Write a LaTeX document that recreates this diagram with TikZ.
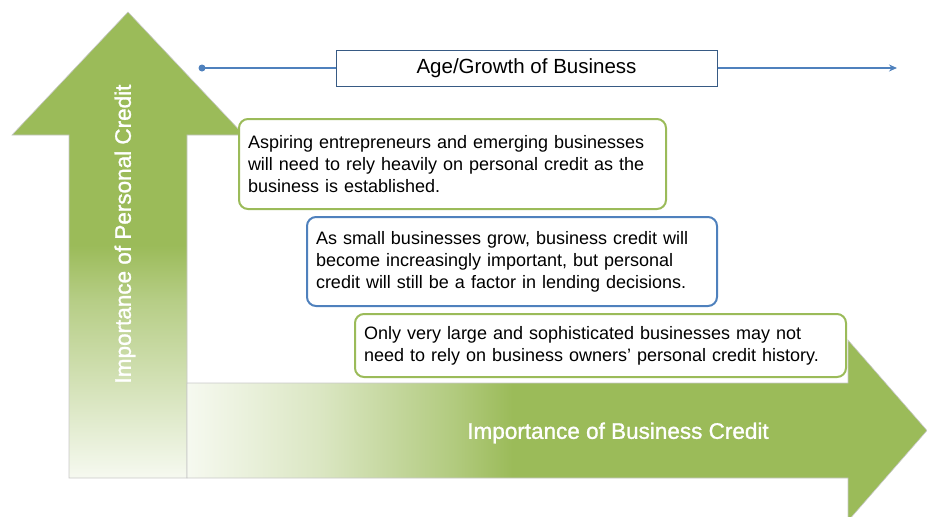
\documentclass[tikz,border=0pt]{standalone}
\usepackage{fontspec}
\setmainfont{Liberation Sans}
\newfontfamily\labelfont[FakeBold=1.2]{Liberation Sans}
\usetikzlibrary{arrows.meta}
\definecolor{ogreen}{HTML}{9BBB59}
\definecolor{oblue}{HTML}{4F81BD}
\definecolor{fadew}{HTML}{F6F9F0}
\definecolor{edgegray}{HTML}{C8C8C8}
% bounding box maps to 25bp..75bp
\pgfdeclareverticalshading{upfade}{100bp}{color(0bp)=(fadew); color(25bp)=(fadew); color(37bp)=(ogreen!45!fadew); color(44bp)=(ogreen!70!fadew); color(50bp)=(ogreen); color(100bp)=(ogreen)}
\pgfdeclarehorizontalshading{rightfade}{100bp}{color(0bp)=(fadew); color(25bp)=(fadew); color(34bp)=(ogreen!30!fadew); color(43bp)=(ogreen!75!fadew); color(47bp)=(ogreen); color(100bp)=(ogreen)}
\tikzset{
  arrowshape/.style={shading=#1, draw=edgegray, line width=0.6pt},
  infobox/.style={draw=#1, line width=2pt, rounded corners=9pt, fill=white, anchor=north west,
    inner xsep=9pt, inner ysep=0pt, align=left, font=\fontsize{18}{22}\selectfont},
  biglabel/.style={text=white, font=\labelfont\fontsize{22.5}{27}\selectfont},
  timeline/.style={draw=oblue, line width=2.2pt},
}
\begin{document}
\begin{tikzpicture}[x=1pt, y=-1pt]
\useasboundingbox (0,0) rectangle (927,517);
% up arrow
\path[arrowshape=upfade] (69,478) -- (69,135) -- (12,135) -- (128,12) -- (244,135) -- (187,135) -- (187,478) -- cycle;
% right arrow
\begin{scope}
\clip (0,0) rectangle (927,517);
\path[arrowshape=rightfade] (187,383) -- (848,383) -- (848,340) -- (927,430.5) -- (848,521) -- (848,478) -- (187,478) -- cycle;
\end{scope}
\node[biglabel, rotate=90] (pers) at (125,234) {Importance of Personal Credit};
\node[biglabel] (bus) at (618,433) {Importance of Business Credit};
% timeline
\node[draw=oblue!70!black, line width=1pt, fill=white, minimum width=381pt, minimum height=36pt,
  font=\fontsize{20.5}{24}\selectfont, inner sep=0pt] (age) at (526.5,68) {Age/Growth of Business};
\coordinate (start) at (202,68);
\coordinate (end) at (897,68);
\fill[oblue] (start) circle (3.5pt);
\draw[timeline] (start) -- (age.west);
\draw[timeline, -{Stealth[length=8pt,width=7pt]}] (age.east) -- (end);
% boxes
\node[infobox=ogreen, minimum width=427pt, minimum height=90pt, text width=409pt] (b1) at (238,118)
  {Aspiring entrepreneurs and emerging businesses\\will need to rely heavily on personal credit as the\\business is established.};
\node[infobox=oblue, minimum width=410pt, minimum height=89pt, text width=392pt] (b2) at (306,216)
  {As small businesses grow, business credit will\\become increasingly important, but personal\\credit will still be a factor in lending decisions.};
\node[infobox=ogreen, minimum width=491pt, minimum height=63pt, text width=473pt] (b3) at (354,313)
  {Only very large and sophisticated businesses may not\\need to rely on business owners' personal credit history.};
\end{tikzpicture}
\end{document}
